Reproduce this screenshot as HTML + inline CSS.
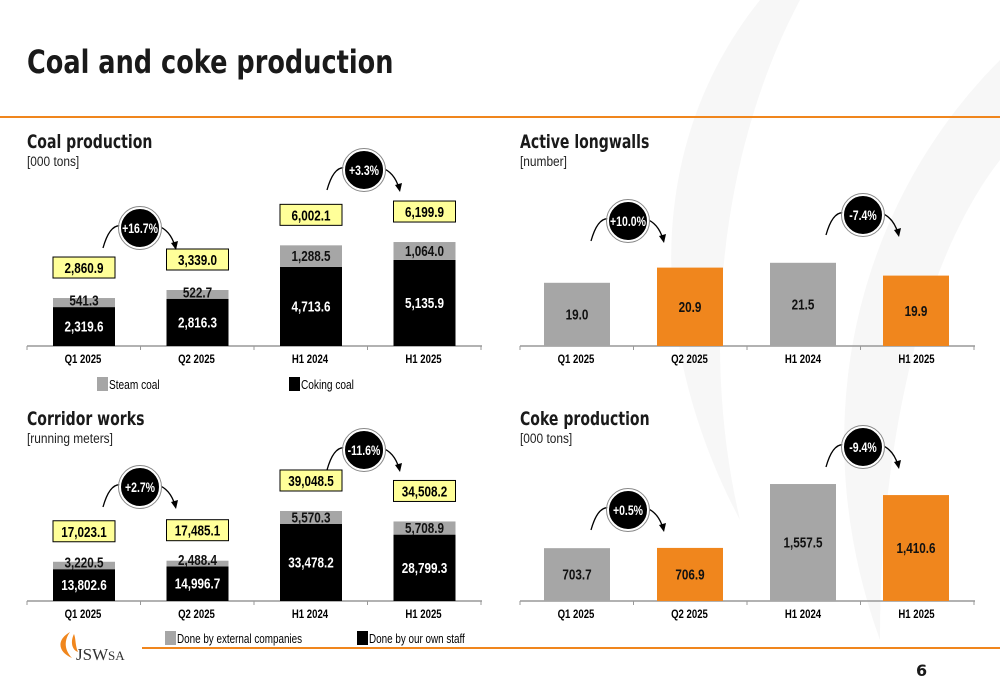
<!DOCTYPE html>
<html><head><meta charset="utf-8"><style>
body{margin:0;width:1000px;height:685px;overflow:hidden;background:#fff;font-family:"Liberation Sans",sans-serif}
svg{position:absolute;left:0;top:0}
.t{font-family:"DejaVu Sans","Liberation Sans",sans-serif;font-weight:bold;fill:#1a1a1a}
.s{font-family:"Liberation Sans",sans-serif;}
</style></head><body>
<svg id="c" width="1000" height="685">
<g fill="#f7f7f7">
<path d="M760,0 C640,150 650,350 740,520 C700,350 720,150 800,0Z"/>
<path d="M1000,60 C860,200 800,420 880,640 C880,420 930,250 1000,160Z"/>
</g>
<text x="27" y="73" class="t" font-size="32" transform="translate(27,0) scale(0.8,1) translate(-27,0)">Coal and coke production</text>
<rect x="0" y="116" width="1000" height="2" fill="#f0861d"/>
<text x="27" y="148" class="t" font-size="19" transform="translate(27,0) scale(0.74,1) translate(-27,0)">Coal production</text>
<text x="27" y="166" font-size="14" fill="#222" transform="translate(27,0) scale(0.85,1) translate(-27,0)">[000 tons]</text>
<text x="520" y="148" class="t" font-size="19" transform="translate(520,0) scale(0.74,1) translate(-520,0)">Active longwalls</text>
<text x="520" y="166" font-size="14" fill="#222" transform="translate(520,0) scale(0.85,1) translate(-520,0)">[number]</text>
<text x="27" y="425" class="t" font-size="19" transform="translate(27,0) scale(0.74,1) translate(-27,0)">Corridor works</text>
<text x="27" y="443" font-size="14" fill="#222" transform="translate(27,0) scale(0.85,1) translate(-27,0)">[running meters]</text>
<text x="520" y="425" class="t" font-size="19" transform="translate(520,0) scale(0.74,1) translate(-520,0)">Coke production</text>
<text x="520" y="443" font-size="14" fill="#222" transform="translate(520,0) scale(0.85,1) translate(-520,0)">[000 tons]</text>
<rect x="97" y="377" width="11" height="14" fill="#a6a6a6"/>
<text x="109" y="389" class="s" font-size="13" transform="translate(109,0) scale(0.78,1) translate(-109,0)">Steam coal</text>
<rect x="289" y="377" width="11" height="14" fill="#000"/>
<text x="301" y="389" class="s" font-size="13" transform="translate(301,0) scale(0.78,1) translate(-301,0)">Coking coal</text>
<rect x="165" y="631" width="11" height="14" fill="#a6a6a6"/>
<text x="177" y="643" class="s" font-size="13" transform="translate(177,0) scale(0.76,1) translate(-177,0)">Done by external companies</text>
<rect x="357" y="631" width="11" height="14" fill="#000"/>
<text x="369" y="643" class="s" font-size="13" transform="translate(369,0) scale(0.76,1) translate(-369,0)">Done by our own staff</text>
<g>
<path d="M70,632 C56,640 58,652 72,658 C64,650 64,640 70,632Z" fill="#f0861d"/>
<path d="M74,634 C70,642 72,650 78,652 C75,645 76,639 74,634Z" fill="#f0861d"/>
<text x="76" y="660" font-family="Liberation Serif,serif" font-size="17" fill="#333">JSW</text>
<text x="108" y="660" font-family="Liberation Serif,serif" font-size="13" fill="#333">SA</text>
</g>
<rect x="142" y="647" width="858" height="2" fill="#f0861d"/>
<text x="916" y="676" class="t" font-size="16">6</text>
</svg>
<script>
const cats=["Q1 2025","Q2 2025","H1 2024","H1 2025"];
const coalCoking=[2319.6,2816.3,4713.6,5135.9];
const coalSteam=[541.3,522.7,1288.5,1064.0];
const coalTotal=["2,860.9","3,339.0","6,002.1","6,199.9"];
const corrOwn=[13802.6,14996.7,33478.2,28799.3];
const corrExt=[3220.5,2488.4,5570.3,5708.9];
const corrTotal=["17,023.1","17,485.1","39,048.5","34,508.2"];
const longwalls=[19.0,20.9,21.5,19.9];
const coke=[703.7,706.9,1557.5,1410.6];
const coalChg=["+16.7%","+3.3%"], longChg=["+10.0%","-7.4%"], corrChg=["+2.7%","-11.6%"], cokeChg=["+0.5%","-9.4%"];
const fmt=(v,d)=>v.toLocaleString('en-US',{minimumFractionDigits:d,maximumFractionDigits:d});
const svg=document.getElementById('c');const NS="http://www.w3.org/2000/svg";
function el(tag,attrs,txt){const e=document.createElementNS(NS,tag);for(const k in attrs)e.setAttribute(k,attrs[k]);if(txt!=null)e.textContent=txt;svg.appendChild(e);return e;}
function sq(e,f){const x=e.getAttribute('x');e.setAttribute('transform',`translate(${x},0) scale(${f},1) translate(${-x},0)`);return e;}
function axis(x0,base,name){
 const a=el('line',{x1:x0,x2:x0+455,y1:base,y2:base,stroke:'#999','stroke-width':1.5});
 
 
 for(let i=0;i<=4;i++){const t=el('line',{x1:x0+i*113.5,x2:x0+i*113.5,y1:base,y2:base+4,stroke:'#999'});
 
 }
 cats.forEach((c,i)=>{const l=sq(el('text',{x:x0+56+i*113.5,y:base+17,'text-anchor':'middle','font-size':12,'font-weight':'bold',class:'s'},c),0.8);
 
 });
}
function stacked(x0,base,k,low,high,tot,name){
 axis(x0,base,name);
 cats.forEach((c,i)=>{
  const bx=x0+26+i*113.5,w=62,h1=low[i]*k,h2=high[i]*k;
  const b1=el('rect',{x:bx,y:base-h1,width:w,height:h1,fill:'#000'});
  
  
  const b2=el('rect',{x:bx,y:base-h1-h2,width:w,height:h2,fill:'#a6a6a6'});
  
  
  const l1=sq(el('text',{x:bx+w/2,y:base-h1/2+5,'text-anchor':'middle','font-size':15,'font-weight':'bold',fill:'#fff',class:'s'},fmt(low[i],1)),0.78);
  
  
  const l2=sq(el('text',{x:bx+w/2,y:base-h1-Math.max(h2,13)/2+5,'text-anchor':'middle','font-size':15,'font-weight':'bold',fill:'#111',class:'s'},fmt(high[i],1)),0.78);
  
  
  const ty=base-h1-h2-41;
  const bx2=el('rect',{x:bx,y:ty,width:w,height:21,fill:'#ffff99',stroke:'#000','stroke-width':1});
  
  
  const lt=sq(el('text',{x:bx+w/2,y:ty+16,'text-anchor':'middle','font-size':15,'font-weight':'bold',fill:'#000',class:'s'},tot[i]),0.78);
  
  
 });
}
function simple(x0,base,k,min,vals,name,dec){
 axis(x0,base,name);
 vals.forEach((v,i)=>{
  const bx=x0+24+i*113,w=66,h=(v-min)*k;
  const r=el('rect',{x:bx,y:base-h,width:w,height:h,fill:i%2?'#f0861d':'#a6a6a6'});
  
  
  const t=sq(el('text',{x:bx+w/2,y:base-h/2+5,'text-anchor':'middle','font-size':15,'font-weight':'bold',fill:'#111',class:'s'},fmt(v,dec)),0.78);
  
  
 });
}
function bubble(cx,cy,txt,name){
 const p=el('path',{d:`M${cx-37},${cy+20} Q${cx-30},${cy-5} ${cx-18},${cy-2} M${cx+18},${cy-2} Q${cx+30},${cy+2} ${cx+35},${cy+18}`,fill:'none',stroke:'#000','stroke-width':1.3});
 
 
 const h=el('path',{d:`M${cx+31},${cy+15} L${cx+36},${cy+22} L${cx+38},${cy+13}Z`,fill:'#000'});
 
 
 const c=el('circle',{cx:cx,cy:cy,r:20,fill:'#000',stroke:'#fff','stroke-width':2});
 
 
 const c2=el('circle',{cx:cx,cy:cy,r:21.5,fill:'none',stroke:'#888','stroke-width':1});
 
 
 const t=sq(el('text',{x:cx,y:cy+5,'text-anchor':'middle','font-size':14,'font-weight':'bold',fill:'#fff',class:'s'},txt),0.75);
 
 
}
stacked(27,346,0.01677,coalCoking,coalSteam,coalTotal,'coal');
stacked(27,601,0.002305,corrOwn,corrExt,corrTotal,'corridor');
simple(520,346,8,11.1,longwalls,'longwalls',1);
simple(520,601,0.0751,0,coke,'coke',1);
bubble(140,228,coalChg[0],'coal-q');bubble(364,170,coalChg[1],'coal-h');
bubble(628,221,longChg[0],'longwalls-q');bubble(863,215,longChg[1],'longwalls-h');
bubble(140,487,corrChg[0],'corridor-q');bubble(364,450,corrChg[1],'corridor-h');
bubble(628,510,cokeChg[0],'coke-q');bubble(863,447,cokeChg[1],'coke-h');
</script>
</body></html>
